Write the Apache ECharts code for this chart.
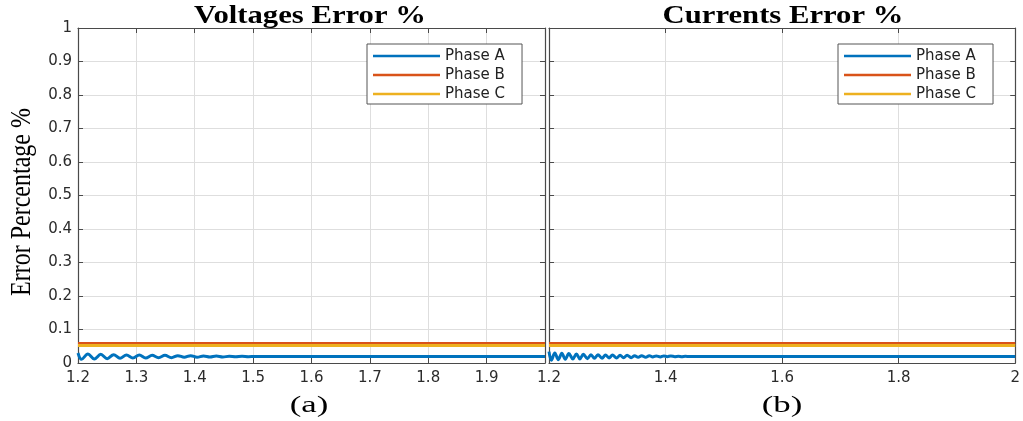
<!DOCTYPE html>
<html><head><meta charset="utf-8">
<script src="https://cdn.jsdelivr.net/npm/echarts@6/dist/echarts.min.js"></script>
<style>html,body{margin:0;padding:0;background:#fff}#c{width:1023px;height:421px}</style>
</head><body><div id="c"></div>
<script>
// ---------- data ----------
const seriesNames = ['Phase A', 'Phase B', 'Phase C'];
const panelTitles = ['Voltages Error %', 'Currents Error %'];
const panelCaptions = ['(a)', '(b)'];
const yAxisTitle = 'Error Percentage %';

// Voltages (time s, error %)
const voltPhaseA = [
  [1.200,0.030],[1.206,0.011],[1.217,0.027],[1.228,0.012],[1.239,0.026],[1.250,0.013],
  [1.261,0.025],[1.272,0.014],[1.283,0.024],[1.294,0.015],[1.305,0.024],[1.316,0.015],
  [1.327,0.023],[1.338,0.016],[1.349,0.023],[1.360,0.016],[1.371,0.022],[1.382,0.017],
  [1.393,0.022],[1.404,0.017],[1.415,0.021],[1.426,0.018],[1.437,0.021],[1.448,0.018],
  [1.459,0.020],[1.470,0.019],[1.481,0.020],[1.492,0.019],[1.503,0.0195],[1.600,0.0195],
  [1.800,0.0195],[2.000,0.0195]
];
const voltPhaseB = [[1.2,0.058],[1.4,0.058],[1.6,0.058],[1.8,0.058],[2.0,0.058]];
const voltPhaseC = [[1.2,0.052],[1.4,0.052],[1.6,0.052],[1.8,0.052],[2.0,0.052]];

// Currents (time s, error %)
const currPhaseA = [
  [1.200,0.034],[1.204,0.008],[1.210,0.030],[1.216,0.010],[1.222,0.029],[1.228,0.011],
  [1.234,0.028],[1.241,0.012],[1.247,0.027],[1.253,0.012],[1.259,0.026],[1.266,0.013],
  [1.272,0.025],[1.278,0.014],[1.284,0.025],[1.291,0.014],[1.297,0.024],[1.303,0.015],
  [1.309,0.024],[1.316,0.015],[1.322,0.023],[1.328,0.016],[1.334,0.023],[1.341,0.016],
  [1.347,0.022],[1.353,0.017],[1.359,0.022],[1.366,0.017],[1.372,0.022],[1.378,0.018],
  [1.384,0.021],[1.391,0.018],[1.397,0.021],[1.403,0.019],[1.409,0.021],[1.416,0.019],
  [1.422,0.020],[1.428,0.019],[1.434,0.020],[1.441,0.0195],[1.500,0.0195],[1.700,0.0195],
  [2.000,0.0195]
];
const currPhaseB = [[1.2,0.058],[1.4,0.058],[1.6,0.058],[1.8,0.058],[2.0,0.058]];
const currPhaseC = [[1.2,0.052],[1.4,0.052],[1.6,0.052],[1.8,0.052],[2.0,0.052]];

const xRange = [1.2, 2.0];
const xIntervals = [0.1, 0.2];
const yRange = [0, 1];
const yInterval = 0.1;

// ---------- styles ----------
const colors = ['#0072BD', '#D95319', '#EDB120'];
const axisColor = '#4a4a4a';
const gridColor = '#dedede';
const labelColor = '#2b2b2b';
const sansFont = 'DejaVu Sans';
const serifFont = 'Liberation Serif';

const fmt = v => String(+(+v).toFixed(1));

const grids = [
  { left: 78, top: 28, width: 467, height: 335 },
  { left: 549, top: 28, width: 467, height: 335 }
];

function boxAxis(gridIndex, position, extra) {
  return Object.assign({
    gridIndex, type: 'value', position,
    axisLine: { show: true, onZero: false, lineStyle: { color: axisColor, width: 1.2 } },
    axisTick: { show: true, inside: true, length: 5, lineStyle: { color: axisColor } },
    axisLabel: { show: false },
    splitLine: { show: false }
  }, extra);
}

const xAxes = [], yAxes = [];
[0, 1].forEach(g => {
  const xr = { min: xRange[0], max: xRange[1], interval: xIntervals[g] };
  xAxes.push(boxAxis(g, 'bottom', Object.assign({}, xr, {
    axisLabel: { show: true, color: labelColor, fontFamily: sansFont, fontSize: 15, margin: 8,
      showMaxLabel: g === 1, formatter: fmt },
    splitLine: { show: true, lineStyle: { color: gridColor, width: 1 } }
  })));
  xAxes.push(boxAxis(g, 'top', Object.assign({}, xr)));
  const yr = { min: yRange[0], max: yRange[1], interval: yInterval };
  yAxes.push(boxAxis(g, 'left', Object.assign({}, yr, {
    axisLabel: { show: g === 0, color: labelColor, fontFamily: sansFont, fontSize: 15, margin: 6, formatter: fmt },
    splitLine: { show: true, lineStyle: { color: gridColor, width: 1 } }
  })));
  yAxes.push(boxAxis(g, 'right', Object.assign({}, yr)));
});

const panelData = [
  [voltPhaseA, voltPhaseB, voltPhaseC],
  [currPhaseA, currPhaseB, currPhaseC]
];
const series = [];
panelData.forEach((sets, g) => {
  sets.forEach((d, i) => {
    series.push({
      name: seriesNames[i], type: 'line', data: d,
      xAxisIndex: g * 2, yAxisIndex: g * 2,
      showSymbol: false, smooth: i === 0 ? 0.35 : false,
      lineStyle: { color: colors[i], width: 3 },
      itemStyle: { color: colors[i] },
      z: 3 + i
    });
  });
});

const legendLefts = [367, 838];
const legends = legendLefts.map(l => ({
  left: l, top: 44, orient: 'vertical', icon: 'rect',
  itemWidth: 67, itemHeight: 2.5, itemGap: 1,
  padding: [3, 17, 1, 6],
  borderColor: '#555', borderWidth: 1, backgroundColor: '#fff',
  textStyle: { fontFamily: sansFont, fontSize: 15, color: '#222', lineHeight: 18 },
  data: seriesNames, z: 10
}));

const titleCenters = [310, 783];
const graphics = [];
titleCenters.forEach((cx, g) => {
  graphics.push({
    type: 'text', x: cx, y: 16, scaleX: 1.18, z: 20,
    style: { text: panelTitles[g], font: 'bold 26px "' + serifFont + '"', fill: '#000',
      textAlign: 'center', textVerticalAlign: 'middle' }
  });
  graphics.push({
    type: 'text', x: cx - 1, y: 406, scaleX: 1.45, z: 20,
    style: { text: panelCaptions[g], font: '24px "' + serifFont + '"', fill: '#000',
      textAlign: 'center', textVerticalAlign: 'middle' }
  });
});
graphics.push({
  type: 'text', x: 22, y: 202, rotation: Math.PI / 2, scaleY: 1.25, z: 20,
  style: { text: yAxisTitle, font: '24px "' + serifFont + '"', fill: '#000',
    textAlign: 'center', textVerticalAlign: 'middle' }
});

const chart = echarts.init(document.getElementById('c'), null, { renderer: 'canvas' });
chart.setOption({
  backgroundColor: '#fff',
  animation: false,
  grid: grids,
  xAxis: xAxes,
  yAxis: yAxes,
  legend: legends,
  series: series,
  graphic: graphics
});
</script>
</body></html>
